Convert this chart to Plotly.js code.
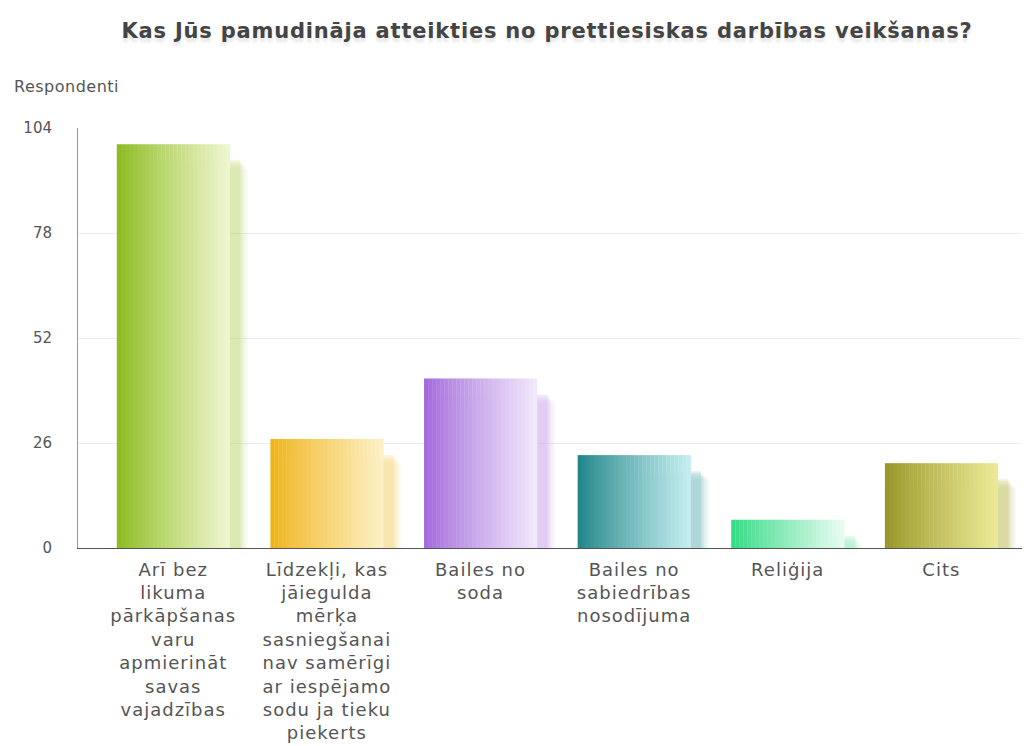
<!DOCTYPE html>
<html>
<head>
<meta charset="utf-8">
<script src="https://cdn.plot.ly/plotly-3.0.1.min.js"></script>
<style>
html,body{margin:0;padding:0;background:#fff;}
#chart{width:1027px;height:746px;}
.xtick text{letter-spacing:1px;}
.annotation-text{letter-spacing:0.5px;}
.gtitle{letter-spacing:0.8px;}
</style>
</head>
<body>
<div id="chart"></div>
<script>
// ---- data ----
const categories = [
  "Arī bez<br>likuma<br>pārkāpšanas<br>varu<br>apmierināt<br>savas<br>vajadzības",
  "Līdzekļi, kas<br>jāiegulda<br>mērķa<br>sasniegšanai<br>nav samērīgi<br>ar iespējamo<br>sodu ja tieku<br>piekerts",
  "Bailes no<br>soda",
  "Bailes no<br>sabiedrības<br>nosodījuma",
  "Reliģija",
  "Cits"
];
const values = [100, 27, 42, 23, 7, 21];
const yTickVals = [0, 26, 52, 78, 104];
const yTickText = ["0", "26", "52", "78", "104"];
const darkColors  = ["#8fbc22", "#f0b41a", "#a46bdc", "#23878a", "#33db84", "#98972a"];
const lightColors = ["#eef6cf", "#fdf0c6", "#f1e8fa", "#c4edf0", "#e6fbf0", "#ebe996"];

// ---- helpers (style only) ----
function hex2rgb(h){h=h.replace('#','');return [parseInt(h.substr(0,2),16),parseInt(h.substr(2,2),16),parseInt(h.substr(4,2),16)];}
function mix(a,b,t){const A=hex2rgb(a),B=hex2rgb(b);return 'rgb('+A.map((v,i)=>Math.round(v+(B[i]-v)*t)).join(',')+')';}
function mixA(a,b,t,al){const A=hex2rgb(a),B=hex2rgb(b);return 'rgba('+A.map((v,i)=>Math.round(v+(B[i]-v)*t)).join(',')+','+al+')';}

const xs = categories.map((c,i)=>i);
const W = 0.735;
const traces = [];

// soft shadow (offset right / down)
const shadowLayers = [
  {grow:0.06, drop:6.0, below:3.0, al:0.08},
  {grow:0.045, drop:5.5, below:2.4, al:0.11},
  {grow:0.03, drop:5.0, below:1.8, al:0.15},
  {grow:0.018, drop:4.5, below:1.2, al:0.19},
  {grow:0.008, drop:4.0, below:0.6, al:0.24}
];
shadowLayers.forEach(L=>{
  traces.push({
    type:'bar', x:xs,
    y:values.map(v=>Math.max(v-L.drop,0.5)+L.below),
    base:values.map(()=>-L.below),
    width:W+L.grow*2, offset:-W/2+0.06-L.grow,
    marker:{color:darkColors.map((d,i)=>mixA(d,lightColors[i],0.5,L.al)), line:{width:0}},
    cliponaxis:false, hoverinfo:'skip'
  });
});

// horizontal gradient strips
const N = 28;
for(let k=0;k<N;k++){
  const t = k/(N-1);
  traces.push({
    type:'bar', x:xs, y:values,
    width:W/N+0.002, offset:-W/2+k*W/N,
    marker:{color:darkColors.map((d,i)=>mix(d,lightColors[i],Math.pow(t,0.9))), line:{width:0}},
    hoverinfo:'skip'
  });
}

const FONT = '"DejaVu Sans", sans-serif';
const layout = {
  width:1027, height:746,
  margin:{l:78, r:5, t:128, b:198},
  paper_bgcolor:'#fff', plot_bgcolor:'#fff',
  barmode:'overlay', showlegend:false, hovermode:false,
  font:{family:FONT, color:'#555', size:15},
  title:{text:'Kas Jūs pamudināja atteikties no prettiesiskas darbības veikšanas?',
    font:{family:FONT, size:21, color:'#444', weight:'bold', shadow:'0px 4px 3px rgba(0,0,0,0.10)'},
    xref:'container', yref:'container', x:547/1027, xanchor:'center', y:1-31/746, yanchor:'middle'},
  xaxis:{
    type:'linear', range:[-0.62, 5.525],
    tickmode:'array', tickvals:xs, ticktext:categories,
    showgrid:false, zeroline:false,
    showline:true, linecolor:'#555', linewidth:1,
    ticks:'outside', ticklen:5, tickcolor:'rgba(0,0,0,0)',
    tickfont:{size:18, color:'#555', family:FONT}
  },
  yaxis:{
    range:[0,104], tickmode:'array', tickvals:yTickVals, ticktext:yTickText,
    showgrid:true, gridcolor:'#ececec', gridwidth:1, zeroline:false,
    showline:true, linecolor:'#999', linewidth:1,
    ticks:'outside', ticklen:22, tickcolor:'rgba(0,0,0,0)',
    tickfont:{size:15, color:'#555', family:FONT}
  },
  annotations:[{
    text:'Respondenti', xref:'paper', yref:'paper',
    x:-66/944, y:(548-87)/420, xanchor:'left', yanchor:'middle',
    showarrow:false, font:{size:16, color:'#555', family:FONT}
  }]
};

Plotly.newPlot('chart', traces, layout, {staticPlot:true, displayModeBar:false});
</script>
</body>
</html>
